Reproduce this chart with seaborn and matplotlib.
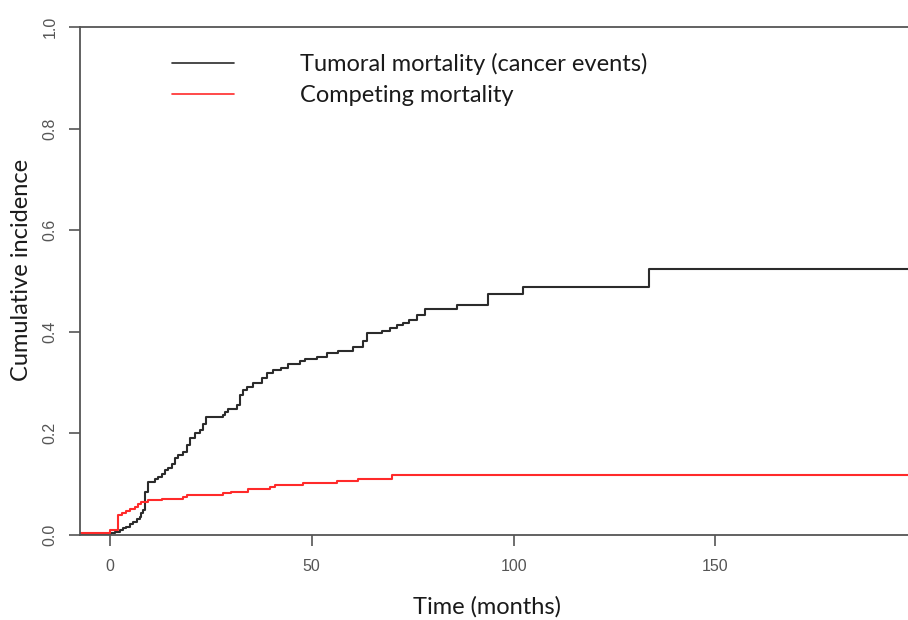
import matplotlib
matplotlib.use("Agg")
import matplotlib.pyplot as plt
import seaborn as sns
import pandas as pd
import numpy as np

# Step points (time in months, cumulative incidence after the step)
tumoral_time = [-7.5, 0.4, 1.2, 2.5, 3.3, 4.1, 5.0, 5.8, 6.6, 7.4, 7.8, 8.3, 8.7, 9.5,
                11.2, 12.0, 12.8, 13.6, 14.5, 15.3, 16.1, 16.9, 18.2, 19.0, 19.8,
                21.1, 22.3, 23.1, 23.9, 28.1, 28.5, 29.3, 31.4, 32.2, 33.0, 33.9,
                35.5, 37.6, 38.8, 40.5, 42.5, 44.2, 47.1, 48.3, 51.2, 53.7, 56.6,
                60.3, 62.8, 63.6, 67.5, 69.5, 71.0, 72.5, 74.0, 76.0, 78.0, 85.9,
                93.7, 102.4, 133.5, 200.0]
tumoral_ci = [0.002, 0.003, 0.006, 0.010, 0.013, 0.016, 0.021, 0.026, 0.031, 0.036,
              0.043, 0.049, 0.085, 0.105, 0.110, 0.115, 0.120, 0.127, 0.131, 0.140,
              0.151, 0.158, 0.164, 0.177, 0.190, 0.200, 0.207, 0.218, 0.233, 0.236,
              0.242, 0.249, 0.255, 0.276, 0.285, 0.291, 0.300, 0.309, 0.318, 0.325,
              0.328, 0.337, 0.343, 0.346, 0.350, 0.359, 0.363, 0.370, 0.381, 0.398,
              0.402, 0.408, 0.413, 0.418, 0.423, 0.434, 0.445, 0.453, 0.475, 0.489,
              0.5235, 0.5235]

competing_time = [-7.5, 0.0, 1.9, 2.9, 4.1, 5.0, 6.2, 7.0, 7.8, 9.5, 12.8, 18.2, 19.0,
                  28.1, 30.1, 34.3, 39.6, 40.9, 47.9, 56.2, 61.5, 69.8, 200.0]
competing_ci = [0.0046, 0.0099, 0.039, 0.044, 0.048, 0.052, 0.056, 0.061, 0.064, 0.069,
                0.071, 0.075, 0.079, 0.083, 0.085, 0.090, 0.094, 0.098, 0.1025, 0.107,
                0.111, 0.1172, 0.1172]

series_names = ["Tumoral mortality (cancer events)", "Competing mortality"]
series_colors = ["#2b2b2b", "#ff2a2a"]
x_ticks = [0, 50, 100, 150]
y_ticks = [0.0, 0.2, 0.4, 0.6, 0.8, 1.0]

df = pd.concat([
    pd.DataFrame({"time": tumoral_time, "ci": tumoral_ci, "series": series_names[0]}),
    pd.DataFrame({"time": competing_time, "ci": competing_ci, "series": series_names[1]}),
])

sns.set_style("ticks")
plt.rcParams["font.family"] = ["Liberation Sans", "DejaVu Sans"]

fig = plt.figure(figsize=(9.08, 6.20), dpi=100)
ax = fig.add_axes([80 / 908, 85 / 620, 1 - 80 / 908, 508 / 620])

sns.lineplot(data=df, x="time", y="ci", hue="series", palette=series_colors,
             hue_order=series_names, drawstyle="steps-post", estimator=None,
             linewidth=1.5, ax=ax, legend=True)

ax.set_xlim(-7.4, 197.7)
ax.set_ylim(0, 1.0)
ax.set_xticks(x_ticks)
ax.set_xticklabels([str(v) for v in x_ticks])
ax.set_yticks(y_ticks)
ax.set_yticklabels([f"{v:.1f}" for v in y_ticks], rotation=90, va="center")

axis_gray = "#555555"
for s in ["left", "bottom", "top"]:
    ax.spines[s].set_color(axis_gray)
    ax.spines[s].set_linewidth(1.3)
ax.spines["right"].set_visible(False)
ax.tick_params(axis="both", colors=axis_gray, length=8, width=1.2, labelsize=11.5,
               labelcolor="#555555")
ax.tick_params(axis="x", pad=9)
ax.tick_params(axis="y", pad=8)

label_font = ["Lato", "DejaVu Sans"]
ax.set_xlabel("Time (months)", fontsize=17, family=label_font, color="#1a1a1a", labelpad=13)
ax.set_ylabel("Cumulative incidence", fontsize=17, family=label_font, color="#1a1a1a", labelpad=10)
ax.xaxis.set_label_coords((487 - 80) / 828, -(607 - 535) / 508, transform=ax.transAxes)
ax.xaxis.label.set_va("center")
ax.yaxis.set_label_coords(-(80 - 22) / 828, (535 - 270) / 508, transform=ax.transAxes)
ax.yaxis.label.set_va("center")

handles, labels = ax.get_legend_handles_labels()
for h in handles:
    h.set_linewidth(1.2)
leg = ax.legend(handles, labels, loc="upper left", bbox_to_anchor=(172 / 908, 1 - 53 / 620),
                bbox_transform=fig.transFigure, frameon=False, handlelength=2.63,
                handletextpad=2.8, labelspacing=0.42, borderpad=0, borderaxespad=0,
                prop={"family": label_font, "size": 17})
for t in leg.get_texts():
    t.set_color("#1a1a1a")

fig.savefig("out.png", dpi=100)
